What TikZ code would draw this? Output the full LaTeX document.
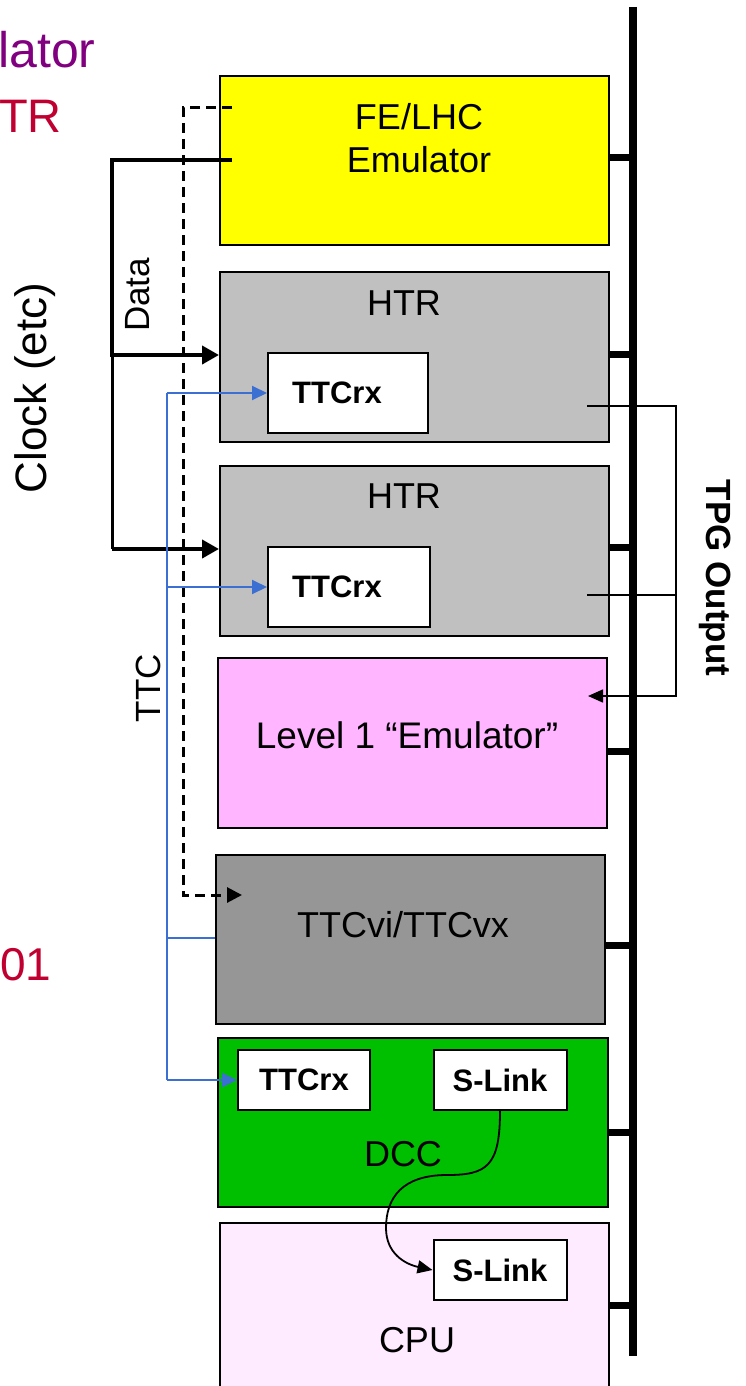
\documentclass[tikz,border=0pt]{standalone}
\usepackage{fontspec}
\setmainfont{Liberation Sans}
\usetikzlibrary{arrows.meta}
\definecolor{feyellow}{HTML}{FFFF00}
\definecolor{htrgray}{HTML}{C0C0C0}
\definecolor{lonepink}{HTML}{FFB5FF}
\definecolor{ttcgray}{HTML}{969696}
\definecolor{dccgreen}{HTML}{00BE00}
\definecolor{cpupink}{HTML}{FFEBFF}
\definecolor{ttcblue}{HTML}{3B6FD1}
\definecolor{purp}{HTML}{800080}
\definecolor{crim}{HTML}{C00030}
\begin{document}
\begin{tikzpicture}[x=1pt,y=-1pt,
  box/.style={draw=black, line width=2pt, anchor=north west, inner sep=0pt},
  lbl/.style={font=\fontsize{36}{43}\selectfont, inner sep=0pt},
  smallfont/.style={font=\bfseries\fontsize{31}{36}\selectfont},
  smallbox/.style={draw=black, line width=2pt, fill=white, inner sep=0pt, smallfont},
  stub/.style={line width=7pt},
  busline/.style={line width=8pt},
  clk/.style={line width=4pt},
  clkthin/.style={line width=3pt},
  clkarr/.style={-{Triangle[length=17pt,width=18pt]}},
  dashline/.style={line width=3pt, dash pattern=on 10pt off 6pt, -{Triangle[length=15pt,width=15pt]}},
  ttc/.style={draw=ttcblue, line width=2pt},
  ttcarr/.style={-{Triangle[length=15pt,width=14pt]}},
  tpg/.style={line width=1.6pt},
  tpgarr/.style={-{Triangle[length=15pt,width=13pt]}},
  slk/.style={line width=1.8pt, -{Triangle[length=15pt,width=13pt]}},
  side/.style={inner sep=0pt}
]
\useasboundingbox (0,0) rectangle (745,1386);

% boxes
\node[box, fill=feyellow, minimum width=389pt, minimum height=169pt] (fe) at (219,75) {};
\node[box, fill=htrgray, minimum width=389pt, minimum height=170pt] (htra) at (219,271) {};
\node[box, fill=htrgray, minimum width=389pt, minimum height=170pt] (htrb) at (219,465) {};
\node[box, fill=lonepink, minimum width=389pt, minimum height=170pt] (lone) at (217,657) {};
\node[box, fill=ttcgray, minimum width=389pt, minimum height=169pt] (ttcvi) at (215,854) {};
\node[box, fill=dccgreen, minimum width=390pt, minimum height=169pt] (dcc) at (217,1037) {};
\node[box, fill=cpupink, minimum width=389pt, minimum height=220pt] (cpu) at (219,1222) {};

% box labels
\node[lbl, align=center] (felbl) at (419,138) {FE/LHC\\Emulator};
\node[lbl, anchor=base] (htralbl) at (404,315) {HTR};
\node[lbl, anchor=base] (htrblbl) at (404,508) {HTR};
\node[lbl, anchor=base, font=\fontsize{37}{43}\selectfont] (lonelbl) at (407,748) {Level 1 “Emulator”};
\node[lbl, anchor=base] (ttcvilbl) at (403,937) {TTCvi/TTCvx};
\node[lbl, anchor=base] (dcclbl) at (403,1166) {DCC};
\node[lbl, anchor=base] (cpulbl) at (417,1352) {CPU};

% inner boxes
\node[smallbox, minimum width=160pt, minimum height=80pt] (ttcrxa) at (348,393) {};
\node[side, smallfont] (ttcrxalbl) at (337,393) {TTCrx};
\node[smallbox, minimum width=162pt, minimum height=80pt] (ttcrxb) at (349,587) {};
\node[side, smallfont] (ttcrxblbl) at (337,587) {TTCrx};
\node[smallbox, minimum width=132pt, minimum height=60pt] (ttcrxd) at (304,1080) {TTCrx};
\node[smallbox, minimum width=133pt, minimum height=60pt] (slinka) at (500,1080) {S-Link};
\node[smallbox, minimum width=133pt, minimum height=60pt] (slinkb) at (500,1270) {S-Link};

% bus
\coordinate (bustop) at (633,7);
\coordinate (busbot) at (633,1356);
\draw[busline] (bustop) -- (busbot);
\coordinate (sa) at (633,157);
\coordinate (sb) at (633,354);
\coordinate (sc) at (633,547);
\coordinate (sd) at (633,751);
\coordinate (se) at (633,945);
\coordinate (sf) at (633,1132);
\coordinate (sg) at (633,1305);
\draw[stub] (fe.east |- sa) -- (sa);
\draw[stub] (htra.east |- sb) -- (sb);
\draw[stub] (htrb.east |- sc) -- (sc);
\draw[stub] (lone.east |- sd) -- (sd);
\draw[stub] (ttcvi.east |- se) -- (se);
\draw[stub] (dcc.east |- sf) -- (sf);
\draw[stub] (cpu.east |- sg) -- (sg);

% clock / data
\coordinate (clkin) at (232,160);
\coordinate (clkc1) at (112,160);
\coordinate (clkc2) at (112,355);
\coordinate (clkc3) at (112,549);
\draw[clk, clkarr] (clkin) -- (clkc1) -- (clkc2) -- (htra.west |- clkc2);
\draw[clkthin] (clkc2) -- (clkc3);
\draw[clk, clkarr] (clkc3) -- (htrb.west |- clkc3);

% dashed
\coordinate (dsin) at (232,108);
\coordinate (dsc1) at (183,108);
\coordinate (dsc2) at (183,895);
\coordinate (dsout) at (242,895);
\draw[dashline] (dsin) -- (dsc1) -- (dsc2) -- (dsout);

% TTC
\coordinate (tca) at (167,393);
\coordinate (tcb) at (167,587);
\coordinate (tcc) at (167,938);
\coordinate (tcd) at (167,1080);
\draw[ttc] (tca) -- (tcd);
\draw[ttc, ttcarr] (tca) -- (ttcrxa.west);
\draw[ttc, ttcarr] (tcb) -- (ttcrxb.west);
\draw[ttc] (tcc) -- (ttcvi.west |- tcc);
\draw[ttc, ttcarr] (tcd) -- (ttcrxd.west);

% TPG output
\coordinate (tpa) at (587,406);
\coordinate (tpb) at (587,595);
\coordinate (tpra) at (676,406);
\coordinate (tprb) at (676,595);
\coordinate (tprc) at (676,696);
\coordinate (tpend) at (588,696);
\draw[tpg, tpgarr] (tpa) -- (tpra) -- (tprc) -- (tpend);
\draw[tpg] (tpb) -- (tprb);

% S-Link curve
\coordinate (cva) at (447,1175);
\coordinate (cvb) at (386,1228);
\draw[slk] (slinka.south) .. controls +(0,55) and +(40,0) .. (cva)
  .. controls +(-45,0) and +(0,-30) .. (cvb)
  .. controls +(0,25) and +(-28,-6) .. (slinkb.west);

% side labels
\node[side, rotate=90, font=\fontsize{35}{35}\selectfont] (datalbl) at (138,295) {Data};
\node[side, rotate=90, font=\fontsize{44}{44}\selectfont] (clocklbl) at (35,388) {Clock (etc)};
\node[side, rotate=90, font=\fontsize{35}{35}\selectfont] (ttclbl) at (148,688) {TTC};
\node[side, rotate=-90, font=\bfseries\fontsize{35}{35}\selectfont] (tpglbl) at (715,578) {TPG Output};

% cut-off texts
\node[side, anchor=base west, text=purp, font=\fontsize{50}{50}\selectfont] (latlbl) at (-2,68) {lator};
\node[side, anchor=base east, text=crim, font=\fontsize{47}{47}\selectfont] (trlbl) at (62,132) {TR};
\node[side, anchor=base west, text=crim, font=\fontsize{46}{46}\selectfont] (zolbl) at (0,980) {01};
\end{tikzpicture}
\end{document}
